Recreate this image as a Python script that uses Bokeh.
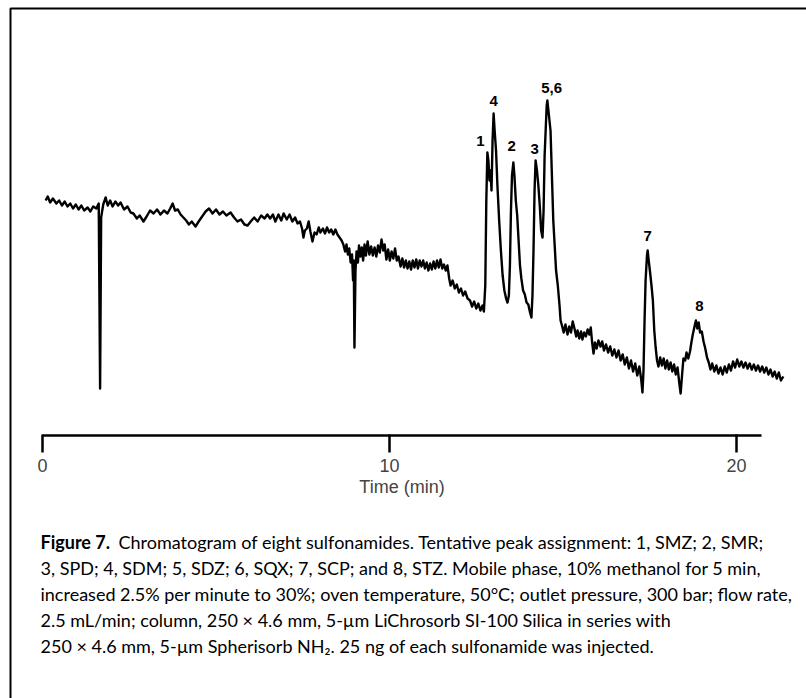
from bokeh.plotting import figure
from bokeh.models import (ColumnDataSource, LinearAxis, FixedTicker, Range1d,
                          Label, BoxAnnotation)
from bokeh.core.properties import value
from bokeh.embed import file_html
from bokeh.resources import INLINE

# ---- data (time in min, detector response in arbitrary units)
time_min = [
    0.09, 0.15, 0.22, 0.30, 0.40, 0.48, 0.56, 0.64, 0.72, 0.80,
    0.88, 0.96, 1.04, 1.12, 1.20, 1.30, 1.38, 1.46, 1.55, 1.62,
    1.66, 1.69, 1.75, 1.82, 1.88, 1.95, 2.02, 2.10, 2.18, 2.25,
    2.35, 2.45, 2.54, 2.62, 2.72, 2.80, 2.91, 3.00, 3.10, 3.20,
    3.30, 3.40, 3.50, 3.60, 3.68, 3.75, 3.82, 3.90, 3.98, 4.06,
    4.14, 4.22, 4.30, 4.41, 4.50, 4.60, 4.70, 4.80, 4.90, 5.00,
    5.10, 5.20, 5.30, 5.42, 5.52, 5.62, 5.72, 5.82, 5.91, 6.00,
    6.10, 6.20, 6.30, 6.40, 6.48, 6.56, 6.64, 6.71, 6.80, 6.88,
    6.95, 7.04, 7.12, 7.20, 7.28, 7.35, 7.42, 7.48, 7.52, 7.56,
    7.62, 7.67, 7.72, 7.78, 7.84, 7.90, 7.96, 8.01, 8.08, 8.14,
    8.20, 8.26, 8.32, 8.38, 8.44, 8.50, 8.56, 8.62, 8.67, 8.72,
    8.76, 8.80, 8.84, 8.88, 8.92, 8.95, 8.97, 8.99, 9.02, 9.05,
    9.09, 9.12, 9.16, 9.20, 9.24, 9.28, 9.32, 9.37, 9.42, 9.47,
    9.52, 9.57, 9.62, 9.67, 9.72, 9.77, 9.82, 9.86, 9.91, 9.96,
    10.01, 10.06, 10.11, 10.16, 10.21, 10.26, 10.32, 10.37, 10.42, 10.47,
    10.52, 10.57, 10.62, 10.67, 10.72, 10.77, 10.82, 10.87, 10.92, 10.97,
    11.02, 11.07, 11.12, 11.17, 11.22, 11.27, 11.32, 11.37, 11.42, 11.47,
    11.52, 11.57, 11.62, 11.67, 11.72, 11.76, 11.82, 11.88, 11.94, 12.00,
    12.06, 12.12, 12.18, 12.25, 12.32, 12.38, 12.44, 12.50, 12.56, 12.62,
    12.68, 12.72, 12.76, 12.79, 12.82, 12.85, 12.88, 12.91, 12.94, 12.97,
    13.00, 13.03, 13.07, 13.11, 13.16, 13.21, 13.26, 13.31, 13.36, 13.40,
    13.44, 13.47, 13.50, 13.53, 13.57, 13.60, 13.64, 13.68, 13.72, 13.76,
    13.80, 13.85, 13.90, 13.95, 14.00, 14.05, 14.09, 14.12, 14.15, 14.18,
    14.21, 14.25, 14.29, 14.33, 14.37, 14.41, 14.44, 14.47, 14.50, 14.53,
    14.55, 14.58, 14.61, 14.64, 14.68, 14.72, 14.76, 14.80, 14.85, 14.90,
    14.93, 14.97, 15.02, 15.07, 15.13, 15.18, 15.23, 15.28, 15.33, 15.38,
    15.42, 15.47, 15.52, 15.56, 15.61, 15.66, 15.71, 15.76, 15.80, 15.84,
    15.88, 15.92, 15.97, 16.02, 16.08, 16.13, 16.18, 16.24, 16.30, 16.36,
    16.42, 16.48, 16.54, 16.60, 16.66, 16.72, 16.78, 16.84, 16.90, 16.96,
    17.02, 17.08, 17.14, 17.20, 17.25, 17.29, 17.32, 17.35, 17.38, 17.42,
    17.44, 17.47, 17.51, 17.55, 17.59, 17.63, 17.67, 17.71, 17.75, 17.80,
    17.85, 17.90, 17.95, 18.00, 18.05, 18.10, 18.15, 18.20, 18.25, 18.30,
    18.35, 18.39, 18.43, 18.47, 18.52, 18.56, 18.61, 18.66, 18.70, 18.74,
    18.79, 18.83, 18.87, 18.91, 18.95, 19.00, 19.05, 19.10, 19.15, 19.20,
    19.25, 19.30, 19.36, 19.42, 19.48, 19.54, 19.60, 19.66, 19.72, 19.78,
    19.84, 19.90, 19.96, 20.02, 20.08, 20.14, 20.20, 20.26, 20.32, 20.38,
    20.44, 20.50, 20.56, 20.62, 20.68, 20.74, 20.80, 20.86, 20.92, 20.98,
    21.04, 21.10, 21.16, 21.22, 21.28, 21.35,
]
response = [
    20.0, 20.4, 19.8, 20.2, 19.7, 20.0, 19.5, 19.9, 19.4, 19.7,
    19.2, 19.6, 19.1, 19.5, 19.0, 19.3, 18.9, 19.4, 19.2, 19.7,
    1.2, 18.3, 19.6, 20.3, 19.5, 20.0, 19.4, 19.9, 19.5, 19.8,
    19.1, 19.4, 18.8, 18.7, 18.2, 18.5, 17.9, 18.4, 19.0, 18.7,
    19.1, 18.6, 19.0, 18.7, 19.2, 19.7, 19.0, 19.1, 18.6, 18.3,
    18.0, 17.6, 17.9, 17.4, 17.9, 18.4, 18.9, 19.2, 18.7, 19.1,
    18.6, 18.9, 18.5, 18.8, 18.3, 17.9, 18.1, 17.6, 17.5, 17.9,
    18.3, 17.9, 18.5, 18.2, 18.6, 18.2, 18.6, 17.9, 18.6, 18.0,
    18.7, 18.1, 18.6, 17.9, 18.3, 17.7, 17.9, 17.2, 16.3, 17.0,
    17.2, 17.9, 16.9, 15.9, 16.8, 16.6, 17.3, 16.8, 17.2, 16.7,
    17.3, 16.8, 17.1, 16.6, 17.1, 16.6, 16.3, 16.0, 15.6, 14.9,
    15.6, 14.6, 15.2, 13.8, 14.6, 12.0, 14.0, 5.3, 13.0, 14.9,
    13.8, 15.5, 14.4, 15.3, 14.0, 15.6, 14.5, 15.9, 14.6, 15.4,
    14.5, 15.3, 14.4, 15.5, 14.8, 16.1, 15.0, 15.6, 14.1, 15.1,
    14.0, 14.9, 14.2, 15.2, 14.0, 14.4, 13.4, 14.2, 13.3, 14.0,
    13.2, 13.9, 13.1, 14.0, 13.3, 14.1, 13.2, 14.0, 13.4, 14.0,
    13.2, 13.8, 13.0, 13.7, 13.1, 13.9, 13.2, 14.0, 13.3, 14.1,
    13.2, 13.6, 13.0, 13.5, 12.2, 11.5, 12.0, 11.2, 11.6, 10.8,
    11.2, 10.5, 10.9, 10.2, 10.0, 9.4, 9.9, 9.2, 9.7, 9.0,
    9.5, 8.9, 11.5, 20.0, 24.8, 24.0, 22.0, 23.0, 21.0, 26.0,
    28.7, 27.0, 25.0, 21.5, 18.0, 15.0, 12.5, 11.0, 10.2, 9.8,
    10.5, 13.5, 19.0, 22.5, 23.8, 22.5, 20.0, 18.5, 16.0, 13.5,
    12.2, 11.0, 10.6, 9.8, 9.6, 8.8, 8.3, 10.5, 15.0, 21.0,
    24.0, 23.0, 21.5, 19.5, 17.0, 16.3, 19.0, 24.5, 27.0, 29.5,
    30.0, 29.0, 28.0, 27.0, 22.5, 18.0, 15.5, 13.0, 11.5, 9.5,
    8.0, 7.5, 6.8, 7.6, 6.6, 7.4, 6.8, 7.9, 7.2, 6.4,
    7.0, 6.2, 6.9, 6.1, 6.8, 6.4, 7.1, 6.6, 7.3, 5.8,
    4.7, 5.8, 5.2, 6.0, 5.4, 5.9, 5.0, 5.6, 4.8, 5.4,
    4.5, 5.1, 4.3, 5.0, 4.0, 4.6, 3.6, 4.3, 3.2, 4.0,
    2.9, 3.7, 2.5, 3.4, 2.2, 0.8, 3.0, 8.0, 12.0, 14.5,
    15.0, 14.0, 12.8, 11.5, 10.0, 7.0, 5.3, 4.0, 3.4, 4.3,
    3.5, 4.2, 3.2, 4.0, 3.1, 3.8, 2.9, 3.6, 2.6, 3.3,
    1.8, 0.7, 2.5, 4.2, 4.0, 4.8, 4.2, 4.9, 5.8, 6.6,
    7.4, 8.0, 7.2, 7.8, 6.8, 6.9, 5.9, 5.2, 4.3, 3.8,
    3.1, 3.7, 2.9, 3.5, 2.7, 3.3, 2.6, 3.4, 2.8, 3.6,
    3.0, 3.9, 3.3, 4.1, 3.4, 3.9, 3.3, 3.8, 3.2, 3.7,
    3.1, 3.6, 3.0, 3.5, 2.9, 3.4, 2.8, 3.3, 2.6, 3.1,
    2.4, 2.9, 2.2, 2.8, 2.0, 2.4,
]

peak_labels = ["1", "4", "2", "3", "5,6", "7", "8"]
peak_label_t = [12.62, 13.00, 13.52, 14.18, 14.67, 17.44, 18.93]
peak_label_y = [26.0, 30.0, 25.5, 25.2, 31.3, 16.5, 9.5]

x_ticks = [0, 10, 20]
x_label = "Time (min)"

caption_bold = "Figure 7."
caption_lines = [
    "Chromatogram of eight sulfonamides. Tentative peak assignment: 1, SMZ; 2, SMR;",
    "3, SPD; 4, SDM; 5, SDZ; 6, SQX; 7, SCP; and 8, STZ. Mobile phase, 10% methanol for 5 min,",
    "increased 2.5% per minute to 30%; oven temperature, 50\u00b0C; outlet pressure, 300 bar; flow rate,",
    "2.5 mL/min; column, 250 \u00d7 4.6 mm, 5-\u00b5m LiChrosorb SI-100 Silica in series with",
    "250 \u00d7 4.6 mm, 5-\u00b5m Spherisorb NH\u2082. 25 ng of each sulfonamide was injected.",
]

W, H = 806, 698
p = figure(width=W, height=H, output_backend="svg", toolbar_location=None,
           x_axis_type=None, y_axis_type=None,
           x_range=Range1d(-1.2104, 22.017), y_range=Range1d(-29.8, 40.0),
           min_border=0, outline_line_color=None, background_fill_color="white",
           border_fill_color="white")

# frame (left and top rules of the figure box)
p.add_layout(BoxAnnotation(left=10, right=W + 50, top=H - 8, bottom=-50,
                           left_units="screen", right_units="screen",
                           top_units="screen", bottom_units="screen",
                           fill_alpha=0, line_color="black", line_alpha=1.0,
                           line_width=2))

src = ColumnDataSource(dict(t=time_min, r=response))
p.line("t", "r", source=src, line_color="black", line_width=2.4, line_join="round")

lab = ColumnDataSource(dict(t=peak_label_t, y=peak_label_y, s=peak_labels))
p.text("t", "y", text="s", source=lab, text_font=value("Liberation Sans"),
       text_font_style="bold", text_font_size="15px", text_align="center",
       text_baseline="middle", text_color="black")

ax = LinearAxis(fixed_location=-3.5, ticker=FixedTicker(ticks=x_ticks),
                bounds=(0, 20.72), axis_label=x_label)
ax.axis_line_width = 2.5
ax.axis_line_color = "black"
ax.major_tick_in = 1
ax.major_tick_out = 17
ax.major_tick_line_width = 2.5
ax.minor_tick_line_color = None
ax.major_label_text_font = "Liberation Sans"
ax.major_label_text_font_size = "18px"
ax.major_label_standoff = 6
ax.axis_label_text_font = "Liberation Sans"
ax.axis_label_text_font_size = "18px"
ax.axis_label_text_font_style = "normal"
ax.axis_label_standoff = 2
p.add_layout(ax, "below")

cap_font = "Lato"
cap_size = "18px"
y0 = H - 541
dy = 26

p.add_layout(Label(x=40, y=y0, x_units="screen", y_units="screen", text=caption_bold,
                   text_font=cap_font, text_font_size=cap_size, text_font_style="bold",
                   text_baseline="middle", text_color="black"))
for i, line in enumerate(caption_lines):
    p.add_layout(Label(x=(118 if i == 0 else 40), y=y0 - dy * i,
                       x_units="screen", y_units="screen", text=line,
                       text_font=cap_font, text_font_size=cap_size,
                       text_baseline="middle", text_color="black"))

open("out.html", "w").write(file_html(p, INLINE))
